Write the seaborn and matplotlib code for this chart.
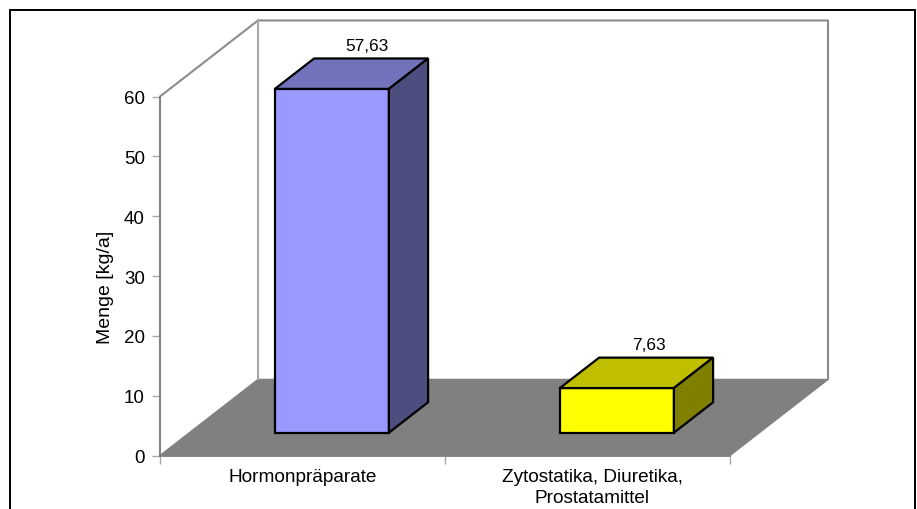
import matplotlib
matplotlib.use("AGG")
import matplotlib.pyplot as plt
import seaborn as sns
import pandas as pd
from matplotlib.patches import Polygon, Rectangle

# Values
categories = ["Hormonpräparate", "Zytostatika, Diuretika,\nProstatamittel"]
values = [57.63, 7.63]
value_labels = ["57,63", "7,63"]
y_ticks = [0, 10, 20, 30, 40, 50, 60]

front_colors = ["#9999ff", "#ffff00"]
top_colors = ["#7373bd", "#bfbf00"]
side_colors = ["#4d4d80", "#808000"]

W, H = 917, 510
# depth of the chart box, in data units
DX = 98 / 285
DY = 76 / 5.98


def proj(x, y, d):
    return x + d * DX, y + d * DY


sns.set_theme(style="white")
plt.rcParams["font.family"] = ["Liberation Sans", "DejaVu Sans"]

fig = plt.figure(figsize=(W / 100, H / 100), dpi=100)
ax = fig.add_axes([160 / W, 1 - 456.5 / H, 570 / W, 359 / H])
ax.patch.set_alpha(0)

df = pd.DataFrame({"cat": categories, "val": values})
sns.barplot(data=df, x="cat", y="val", hue="cat", palette=front_colors, width=0.4,
            legend=False, ax=ax, edgecolor="black", linewidth=1.6, saturation=1, zorder=5)
ax.set_xlim(-0.5, 1.5)
ax.set_ylim(0, 60)

# floor and walls
floor = [proj(-0.5, 0, 0), proj(1.5, 0, 0), proj(1.5, 0, 1), proj(-0.5, 0, 1)]
ax.add_patch(Polygon(floor, closed=True, fc="#808080", ec="#808080", lw=1, clip_on=False, zorder=1))
wall = [proj(-0.5, 0, 0), proj(-0.5, 60, 0), proj(-0.5, 60, 1), proj(1.5, 60, 1), proj(1.5, 0, 1)]
wall += [proj(-0.5, 0, 1), proj(-0.5, 60, 1)]
ax.plot(*zip(*wall[:5]), color="#8c8c8c", lw=1.5, clip_on=False, zorder=2)
ax.plot(*zip(*wall[5:]), color="#a6a6a6", lw=1.5, clip_on=False, zorder=2)

# turn flat bars into boxes
label_shift = [-3.3, -5.4]
for i, bar in enumerate(ax.patches[:len(values)]):
    x0, w, h = bar.get_x(), bar.get_width(), bar.get_height()
    x0, y0 = proj(x0, 0, 0.3)
    bar.set_x(x0)
    bar.set_y(y0)
    bar.set_height(h - 0.17)
    bar.set_clip_on(False)
    x1, y1 = x0 + w, y0 + h - 0.17
    ddx, ddy = 0.4 * DX, 0.4 * DY
    ax.add_patch(Polygon([(x0, y1), (x1, y1), (x1 + ddx, y1 + ddy), (x0 + ddx, y1 + ddy)],
                         fc=top_colors[i], ec="black", lw=1.6, clip_on=False, zorder=5))
    ax.add_patch(Polygon([(x1, y0), (x1 + ddx, y0 + ddy), (x1 + ddx, y1 + ddy), (x1, y1)],
                         fc=side_colors[i], ec="black", lw=1.6, clip_on=False, zorder=5))
    ax.annotate(value_labels[i], (x0 + w / 2 + ddx, y1 + ddy), xytext=(label_shift[i], 4), textcoords="offset points",
                ha="center", va="bottom", fontsize=12.4, color="black", annotation_clip=False)

sns.despine(ax=ax, top=True, right=True)
for side in ["left", "bottom"]:
    ax.spines[side].set_color("#808080")
    ax.spines[side].set_linewidth(1.3)
    ax.spines[side].set_zorder(3)

ax.set_yticks(y_ticks)
ax.set_xticks([-0.5, 0.5, 1.5], labels=["", "", ""])
ax.set_xticks([0, 1.016], labels=categories, minor=True, linespacing=1.3)
ax.tick_params(axis="x", which="major", length=6, color="#a6a6a6", width=1, bottom=True)
ax.tick_params(axis="x", which="minor", length=0, labelsize=13.7, pad=9, labelcolor="black")
ax.tick_params(axis="y", length=6, color="#a6a6a6", width=1, left=True, labelsize=13.5, pad=5, labelcolor="black")
ax.set_xlabel("")
ax.set_ylabel("Menge [kg/a]", fontsize=14, color="black", labelpad=7, y=0.47)

# outer frame, runs off the bottom of the picture
fig.add_artist(Rectangle((9.5 / W, -0.05), (915 - 9.5) / W, 1.05 - 10.5 / H, fc="none", ec="black",
                         lw=1.4, transform=fig.transFigure))

plt.savefig("out.png", dpi=100)
